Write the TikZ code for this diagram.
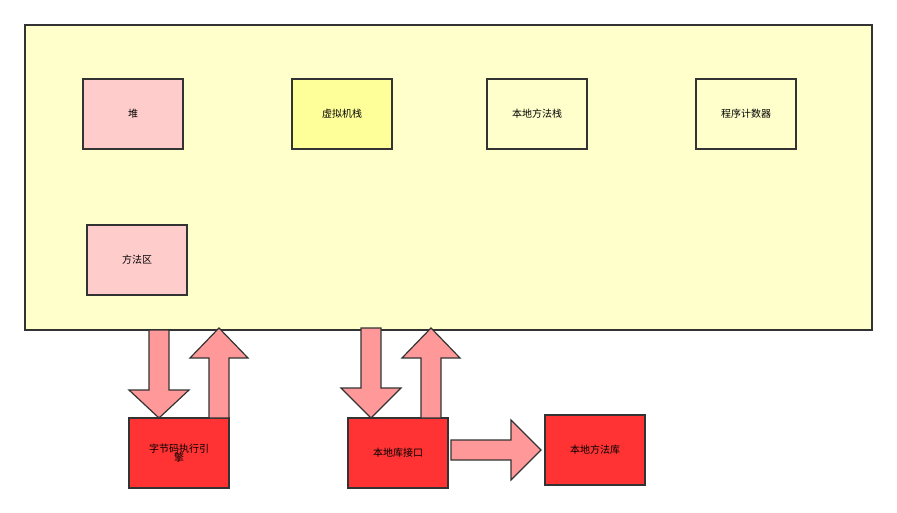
\documentclass[tikz,border=0pt]{standalone}
\usepackage{fontspec}
\setmainfont{Noto Sans CJK SC}
\definecolor{bg}{HTML}{FFFFCC}
\definecolor{pinkc}{HTML}{FFCCCC}
\definecolor{yelc}{HTML}{FFFF99}
\definecolor{redc}{HTML}{FF3333}
\definecolor{arrc}{HTML}{FF9999}
\definecolor{edge}{HTML}{333333}
\begin{document}
\begin{tikzpicture}[x=1pt,y=-1pt,
  box/.style={draw=edge,line width=1.2pt,minimum width=100pt,minimum height=70pt,inner sep=0pt,font=\fontsize{10}{11}\selectfont,align=center},
  fatarrow/.style={draw=edge,fill=arrc,line width=1.2pt,line join=miter}]
\useasboundingbox (0,0) rectangle (897,513);
\draw[draw=edge,fill=bg,line width=1.2pt] (25,25) rectangle (872,330);
\node[box,fill=pinkc] (heap) at (133,114) {堆};
\node[box,fill=yelc] (vms) at (342,114) {虚拟机栈};
\node[box,fill=bg] (nms) at (537,114) {本地方法栈};
\node[box,fill=bg] (pc) at (746,114) {程序计数器};
\node[box,fill=pinkc] (ma) at (137,260) {方法区};
\node[box,fill=redc] (exe) at (179,453) {字节码执行引\\[-2pt]擎};
\node[box,fill=redc] (nif) at (398,453) {本地库接口};
\node[box,fill=redc] (nlib) at (595,450) {本地方法库};
\draw[fatarrow] (149,330)--(169,330)--(169,390)--(189,390)--(159,418)--(129,390)--(149,390)--cycle;
\draw[fatarrow] (209,418)--(229,418)--(229,358)--(248,358)--(219,328)--(190,358)--(209,358)--cycle;
\draw[fatarrow] (361,328)--(381,328)--(381,388)--(401,388)--(371,418)--(341,388)--(361,388)--cycle;
\draw[fatarrow] (421,418)--(441,418)--(441,358)--(460,358)--(431,328)--(402,358)--(421,358)--cycle;
\draw[fatarrow] (451,440)--(511,440)--(511,420)--(541,450)--(511,480)--(511,460)--(451,460)--cycle;
\end{tikzpicture}
\end{document}
